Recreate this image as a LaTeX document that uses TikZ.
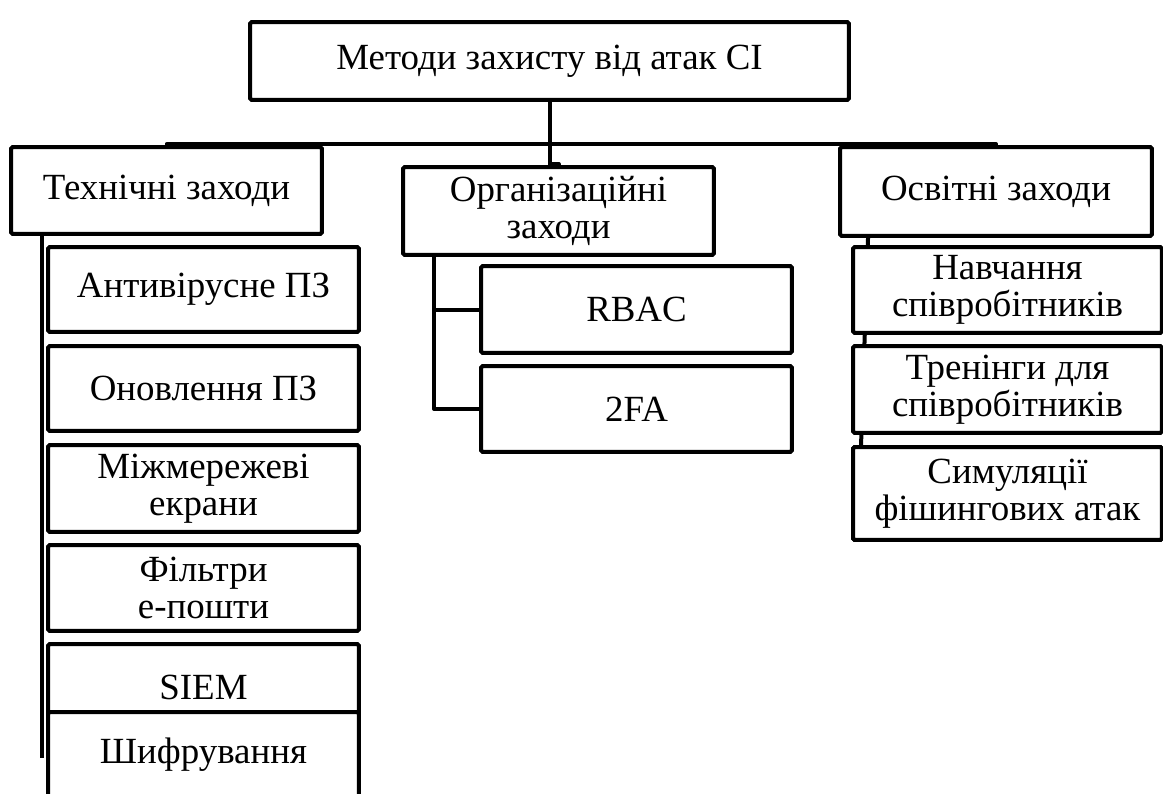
\documentclass[tikz,border=0pt]{standalone}
\usepackage{fontspec}
\setmainfont{Liberation Serif}
\usetikzlibrary{calc}

\tikzset{
  blok/.style={draw, line width=0.08cm, fill=white, align=center,
    inner sep=0pt, minimum width=6.22cm, minimum height=1.72cm,
    rounded corners=1pt, font=\fontsize{21}{21}\selectfont},
  lin/.style={line width=0.08cm, line join=round}
}

\begin{document}
\begin{tikzpicture}[x=0.02cm,y=-0.02cm]
  \clip (0,0) rectangle (1163,794);
  \fill[white] (0,0) rectangle (1163,794);
  % top level
  \path (549.5,61) node[blok,minimum width=11.98cm,minimum height=1.56cm] (top) {Методи захисту від атак СІ};
  \path (166.5,190.5) node[blok,minimum height=1.74cm] (tech) {Технічні заходи};
  \path (558.5,211) node[blok,minimum height=1.76cm] (org) {Організаційні\\заходи};
  \path (996,191.5) node[blok,minimum width=6.24cm,minimum height=1.78cm] (osv) {Освітні заходи};
  \path (top.south) ++(0,42) coordinate (bus);
  \draw[lin] (tech.north) |- (bus) -| (osv.north);
  \draw[lin] (top.south) -- ($(top.south)+(0,62)$) -| (org.north);
  % technical
  \path ($(tech.south west)+(33,0)$) coordinate (techtop);
  \path (techtop) ++(0,522) coordinate (techend);
  \draw[lin] (techtop) -- (techend);
  \path (203.5,289.5) node[blok,minimum height=1.7cm] (antiv) {Антивірусне ПЗ};
  \path (203.5,388.5) node[blok,minimum height=1.7cm] (onovl) {Оновлення ПЗ};
  \path (203.5,488.5) node[blok,minimum height=1.74cm] (mizh) {Міжмережеві\\екрани};
  \path (203.5,588) node[blok] (filtr) {Фільтри\\е-пошти};
  \path (203.5,687) node[blok] (siem) {SIEM};
  \path (203.5,755) node[blok] (shyfr) {Шифрування};
  % organisational
  \path ($(org.south west)+(33,0)$) coordinate (orgtop);
  \path (636.5,309.5) node[blok,minimum height=1.74cm] (rbac) {RBAC};
  \path (636.5,409) node[blok] (tfa) {2FA};
  \draw[lin] (orgtop) |- (tfa.west);
  \draw[lin] (orgtop |- rbac.west) -- (rbac.west);
  % educational
  \path ($(osv.south west)+(30,0)$) coordinate (osvtop);
  \path (1007.5,493.5) node[blok,minimum width=6.18cm,minimum height=1.86cm] (sim) {Симуляції\\фішингових атак};
  \draw[lin] (osvtop) -- ($(sim.north west)+(10,0)$);
  \path (1007.5,290) node[blok,minimum width=6.18cm] (navch) {Навчання\\співробітників};
  \path (1007.5,389.5) node[blok,minimum width=6.18cm,minimum height=1.74cm] (tren) {Тренінги для\\співробітників};
  \path (1007.5,493.5) node[blok,minimum width=6.18cm,minimum height=1.86cm] {Симуляції\\фішингових атак};
\end{tikzpicture}
\end{document}
